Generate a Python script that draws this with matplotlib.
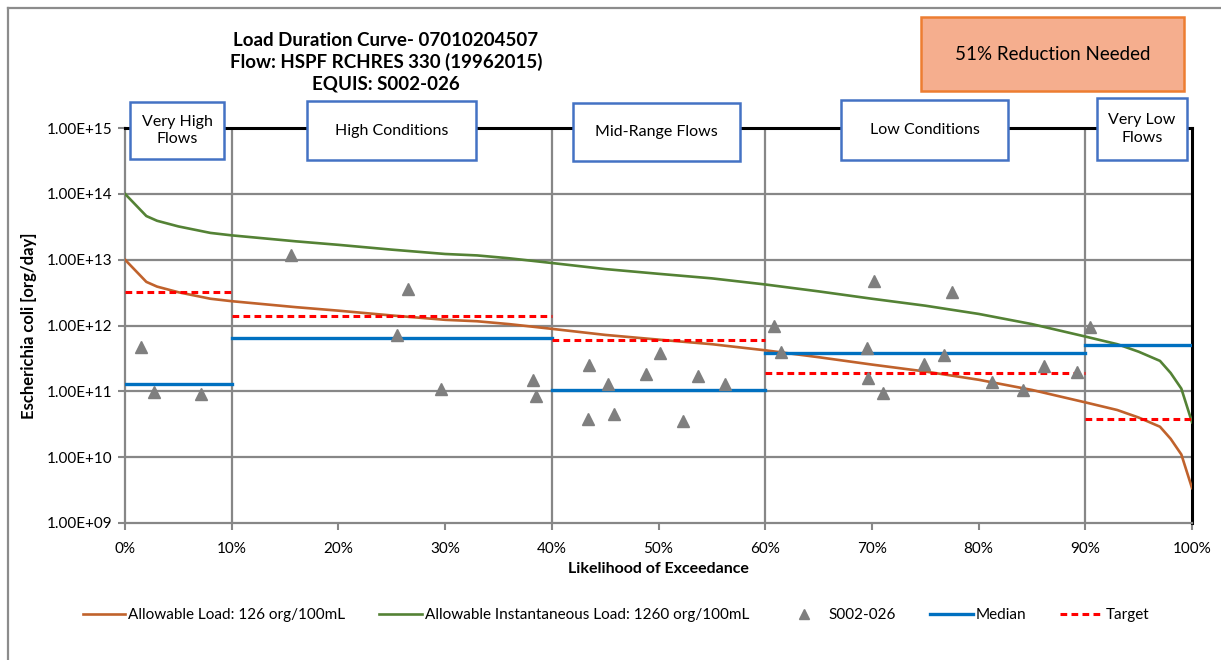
import matplotlib
matplotlib.use("Agg")
import matplotlib.pyplot as plt
from matplotlib.patches import Rectangle
from matplotlib.lines import Line2D
from matplotlib.ticker import FuncFormatter, FixedLocator

plt.rcParams['font.family'] = ['Lato', 'DejaVu Sans']

# load duration curves (flow exceedance %, org/day)
exceed = [0, 2, 3, 5, 8, 10, 16, 20, 25, 30, 33, 36, 40, 45, 50, 55, 60, 65,
          70, 75, 80, 85, 90, 93, 95, 97, 98, 99, 100]
allow_load = [1.0e13, 4.6e12, 3.9e12, 3.2e12, 2.55e12, 2.34e12, 1.9e12, 1.68e12,
              1.42e12, 1.22e12, 1.16e12, 1.05e12, 8.9e11, 7.2e11, 6.1e11, 5.2e11,
              4.2e11, 3.3e11, 2.55e11, 2.0e11, 1.5e11, 1.05e11, 6.8e10, 5.2e10,
              4.0e10, 2.9e10, 1.9e10, 1.1e10, 3.4e9]
allow_inst = [1.0e14, 4.6e13, 3.9e13, 3.2e13, 2.55e13, 2.34e13, 1.9e13, 1.68e13,
              1.42e13, 1.22e13, 1.16e13, 1.05e13, 8.9e12, 7.2e12, 6.1e12, 5.2e12,
              4.2e12, 3.3e12, 2.55e12, 2.0e12, 1.5e12, 1.05e12, 6.8e11, 5.2e11,
              4.0e11, 2.9e11, 1.9e11, 1.1e11, 3.4e10]

# monitoring samples S002-026
obs_x = [1.5, 2.7, 7.1, 15.6, 25.5, 26.5, 29.6, 38.2, 38.5, 43.5, 43.4, 45.3,
         45.8, 48.8, 50.1, 52.3, 53.7, 56.2, 60.8, 61.5, 69.5, 69.6, 70.2, 71.0,
         74.9, 76.8, 77.5, 81.3, 84.2, 86.1, 89.2, 90.4]
obs_y = [4.7e11, 9.8e10, 9.0e10, 1.19e13, 7.2e11, 3.6e12, 1.1e11, 1.47e11, 8.4e10,
         2.5e11, 3.8e10, 1.28e11, 4.6e10, 1.86e11, 3.85e11, 3.5e10, 1.69e11, 1.31e11,
         1.0e12, 3.9e11, 4.6e11, 1.6e11, 4.7e12, 9.5e10, 2.6e11, 3.6e11, 3.2e12,
         1.38e11, 1.03e11, 2.4e11, 2.0e11, 9.4e11]

# flow zones
zone_edges = [0, 10, 40, 60, 90, 100]
zone_names = ["Very High\nFlows", "High Conditions", "Mid-Range Flows",
              "Low Conditions", "Very Low\nFlows"]
median = [1.31e11, 6.5e11, 1.06e11, 3.8e11, 5.1e11]
target = [3.2e12, 1.4e12, 6.1e11, 1.9e11, 3.75e10]

W, H = 1221, 660
fig = plt.figure(figsize=(W / 100, H / 100), dpi=100)
ax = fig.add_axes([125 / W, 1 - 523 / H, (1192 - 125) / W, (523 - 128) / H])

grid_c = '#878787'
ax.set_yscale('log')
ax.set_ylim(1e9, 1e15)
ax.set_xlim(0, 100)

# gridlines
for e in [1e10, 1e11, 1e12, 1e13, 1e14]:
    ax.axhline(e, color=grid_c, lw=1.6, zorder=1)
for e in zone_edges[1:-1]:
    ax.axvline(e, color=grid_c, lw=1.6, zorder=1)

ax.plot(exceed, allow_load, color='#C0622C', lw=1.9, zorder=3,
        label='Allowable Load: 126 org/100mL')
ax.plot(exceed, allow_inst, color='#548235', lw=1.9, zorder=3,
        label='Allowable Instantaneous Load: 1260 org/100mL')
ax.plot(obs_x, obs_y, ls='none', marker='^', ms=8.5, color='#7F7F7F', zorder=4,
        label='S002-026')
for i in range(len(median)):
    lab = 'Median' if i == 0 else None
    ax.plot([zone_edges[i], zone_edges[i + 1]], [median[i], median[i]],
            color='#0070C0', lw=2.4, zorder=3, label=lab)
for i in range(len(target)):
    lab = 'Target' if i == 0 else None
    ax.plot([zone_edges[i], zone_edges[i + 1]], [target[i], target[i]],
            color='#FF0000', lw=2.2, ls=(0, (2.2, 1.4)), zorder=3, label=lab)

for s in ['left', 'bottom']:
    ax.spines[s].set_color(grid_c)
    ax.spines[s].set_linewidth(1.6)
for s in ['top', 'right']:
    ax.spines[s].set_color('black')
    ax.spines[s].set_linewidth(2.2)

ax.xaxis.set_major_locator(FixedLocator(range(0, 101, 10)))
ax.xaxis.set_major_formatter(FuncFormatter(lambda v, p: f"{int(v)}%"))
ax.yaxis.set_major_locator(FixedLocator([1e9, 1e10, 1e11, 1e12, 1e13, 1e14, 1e15]))
ax.yaxis.set_major_formatter(FuncFormatter(lambda v, p: f"{v:.2E}"))
ax.yaxis.set_minor_locator(FixedLocator([]))
ax.tick_params(axis='both', labelsize=11, color=grid_c, width=1.5, length=5,
               labelcolor='black')
ax.tick_params(axis='x', pad=9)
ax.tick_params(axis='y', pad=4)

ax.set_xlabel('Likelihood of Exceedance', fontsize=11.5, fontweight='bold', labelpad=4)
ax.set_ylabel('Escherichia coli [org/day]', fontsize=12, fontweight='bold', labelpad=7)

fig.text(386 / W, 1 - 62 / H,
         'Load Duration Curve- 07010204507\nFlow: HSPF RCHRES 330 (19962015)\nEQUIS: S002-026',
         ha='center', va='center', fontsize=13.5, fontweight='bold', linespacing=1.3)

# zone label boxes (pixel layout)
boxes = [(130, 102, 224, 159), (307, 101, 476, 160), (573, 103, 740, 161),
         (841, 100, 1008, 160), (1097, 98, 1187, 160)]
for (x0, y0, x1, y1), name in zip(boxes, zone_names):
    fig.add_artist(Rectangle((x0 / W, 1 - y1 / H), (x1 - x0) / W, (y1 - y0) / H,
                             transform=fig.transFigure, facecolor='white',
                             edgecolor='#4472C4', lw=1.8, zorder=5))
    fig.text((x0 + x1) / 2 / W, 1 - (y0 + y1) / 2 / H, name, ha='center', va='center',
             fontsize=11.5, linespacing=1.3, zorder=6)

fig.add_artist(Rectangle((921 / W, 1 - 91 / H), (1184 - 921) / W, (91 - 17) / H,
                         transform=fig.transFigure, facecolor='#F5AE8E',
                         edgecolor='#ED7D31', lw=1.8, zorder=5))
fig.text((921 + 1184) / 2 / W, 1 - 54 / H, '51% Reduction Needed', ha='center',
         va='center', fontsize=13.5, zorder=6)

# chart area border
fig.add_artist(Line2D([8 / W, 1], [1 - 8 / H, 1 - 8 / H], transform=fig.transFigure,
                      color='#8C8C8C', lw=1.6))
fig.add_artist(Line2D([8 / W, 8 / W], [0, 1 - 8 / H], transform=fig.transFigure,
                      color='#8C8C8C', lw=1.6))

leg = fig.legend(loc='center', bbox_to_anchor=(616 / W, 1 - 615 / H), ncol=5,
                 frameon=False, fontsize=11, handlelength=2.8, handletextpad=0.2,
                 columnspacing=2.2)
leg.legend_handles[2].set_markersize(7)

fig.savefig('out.png', dpi=100)
